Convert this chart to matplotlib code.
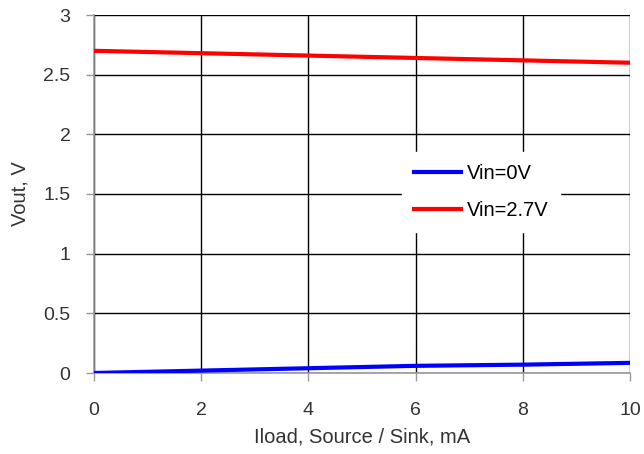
import numpy as np
from matplotlib import pyplot as plt

plt.rcParams['font.family'] = ['Liberation Sans', 'DejaVu Sans']

# load current, mA
iload = [0, 2, 4, 6, 8, 10]
vout_vin0 = [0.0, 0.02, 0.04, 0.06, 0.07, 0.085]
vout_vin27 = [2.70, 2.68, 2.66, 2.64, 2.62, 2.60]

fig = plt.figure(figsize=(6.44, 4.54), dpi=100)
ax = fig.add_axes([94/644, 1 - 373/454, (630-94)/644, (373-15)/454])

ax.plot(iload, vout_vin0, color='#0000ff', linewidth=3, label='Vin=0V', zorder=3)
ax.plot(iload, vout_vin27, color='#ff0000', linewidth=3, label='Vin=2.7V', zorder=3)

ax.set_xlim(0, 10)
ax.set_ylim(0, 3)
ax.set_xticks(np.arange(0, 11, 2))
ax.set_yticks(np.arange(0, 3.01, 0.5))
ax.set_yticklabels(['0', '0.5', '1', '1.5', '2', '2.5', '3'])
ax.grid(True, color='black', linewidth=1)
ax.set_axisbelow(True)

for s in ['top', 'right']:
    ax.spines[s].set_visible(False)
for s in ['left', 'bottom']:
    ax.spines[s].set_color('#999999')
    ax.spines[s].set_linewidth(1.2)
ax.tick_params(colors='#999999', labelcolor='#333333', labelsize=14,
               length=6, width=1)
ax.tick_params(axis='x', pad=15)
ax.tick_params(axis='y', pad=11)

ax.set_xlabel('Iload, Source / Sink, mA', fontsize=14.5, color='#333333', labelpad=6)
ax.set_ylabel('Vout, V', fontsize=14.5, color='#333333', labelpad=10)

leg = ax.legend(loc='upper left', bbox_to_anchor=(0.575, 0.617), frameon=True,
                fontsize=14.5, handlelength=2.3, handletextpad=0.3, labelspacing=0.9,
                borderpad=0.6, borderaxespad=0, fancybox=False)
leg.get_frame().set_edgecolor('white')
leg.get_frame().set_facecolor('white')
leg.get_frame().set_alpha(1)

fig.savefig('out.png', dpi=100)
